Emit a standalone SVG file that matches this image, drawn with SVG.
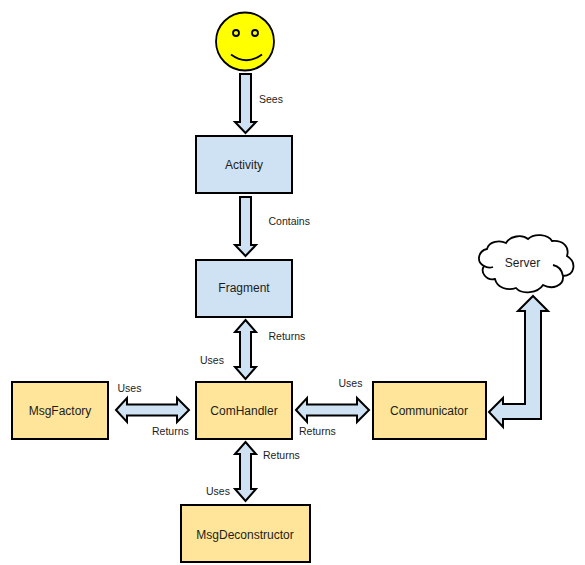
<svg xmlns="http://www.w3.org/2000/svg" width="585" height="565" viewBox="0 0 585 565">
<style>
text{font-family:"Liberation Sans",Arial,sans-serif;fill:#1c1c1c}
.l{font-size:10.5px}
.n{font-size:12px;text-anchor:middle}
.b{fill:#cfe2f3;stroke:#000;stroke-width:2}
.y{fill:#ffe599;stroke:#000;stroke-width:2}
.a{fill:#cfe2f3;stroke:#000;stroke-width:2;stroke-linejoin:miter}
</style>
<rect width="585" height="565" fill="#fff"/>
<g id="connectors">
<path class="a" d="M240 74H251V122H256L245.500 133L235 122H240Z"/>
<path class="a" d="M240 197H251V245H256L245.500 256L235 245H240Z"/>
<path class="a" d="M245.500 320L256 332H251V367H256L245.500 379L235 367H240V332H235Z"/>
<path class="a" d="M245.500 442L256 454H251V489H256L245.500 501L235 489H240V454H235Z"/>
<path class="a" d="M116 410L127 398V404.500H177V398L189 410L177 422V415.500H127V422Z"/>
<path class="a" d="M296 410L307 398V404.500H357V398L369 410L357 422V415.500H307V422Z"/>
<path class="a" d="M489 412L503 398V404H525V311H518L533 296L548 311H541V419H503V427Z"/>
<text class="l" x="259" y="103">Sees</text>
<text class="l" x="268.500" y="225">Contains</text>
<text class="l" x="268.500" y="340">Returns</text>
<text class="l" x="200" y="364">Uses</text>
<text class="l" x="117.500" y="392">Uses</text>
<text class="l" x="152" y="435">Returns</text>
<text class="l" x="338.500" y="387">Uses</text>
<text class="l" x="299" y="435">Returns</text>
<text class="l" x="263" y="459">Returns</text>
<text class="l" x="206" y="495">Uses</text>
</g>
<g id="user"><circle cx="245" cy="41.500" r="29" fill="#ff0" stroke="#000" stroke-width="1.800"/><circle cx="236" cy="33" r="3" fill="none" stroke="#000" stroke-width="1.800"/><circle cx="255" cy="33" r="3" fill="none" stroke="#000" stroke-width="1.800"/><path d="M231 54.500Q246.500 66 262 54.500" fill="none" stroke="#000" stroke-width="1.800"/></g>
<g id="activity"><rect class="b" x="196" y="136" width="96" height="57"/><text class="n" x="244" y="169">Activity</text></g>
<g id="fragment"><rect class="b" x="196" y="260" width="96" height="57"/><text class="n" x="244" y="292">Fragment</text></g>
<g id="msgfactory"><rect class="y" x="12" y="382" width="96" height="57"/><text class="n" x="60" y="415">MsgFactory</text></g>
<g id="comhandler"><rect class="y" x="196" y="382" width="96" height="57"/><text class="n" x="244" y="415">ComHandler</text></g>
<g id="communicator"><rect class="y" x="373" y="382" width="113" height="57"/><text class="n" x="429" y="415">Communicator</text></g>
<g id="msgdeconstructor"><rect class="y" x="181" y="505" width="129" height="57"/><text class="n" x="245" y="539">MsgDeconstructor</text></g>
<g id="server"><path d="M487 249C489 241 500 240 506 243C510 236 522 234 528 239C534 233 548 234 552 241C562 240 570 246 567 256C577 262 575 276 563 276C564 286 552 290 543 285C538 293 522 295 516 288C508 291 497 288 495 279C486 281 480 272 484 266C476 262 478 251 487 249Z" fill="#fff" stroke="#000" stroke-width="1.800"/><path d="M553 265C558 266 562 270 563 276M484 266C487 268 490 268 493 267" fill="none" stroke="#000" stroke-width="1.800"/><text class="n" x="522.500" y="267">Server</text></g>
</svg>
